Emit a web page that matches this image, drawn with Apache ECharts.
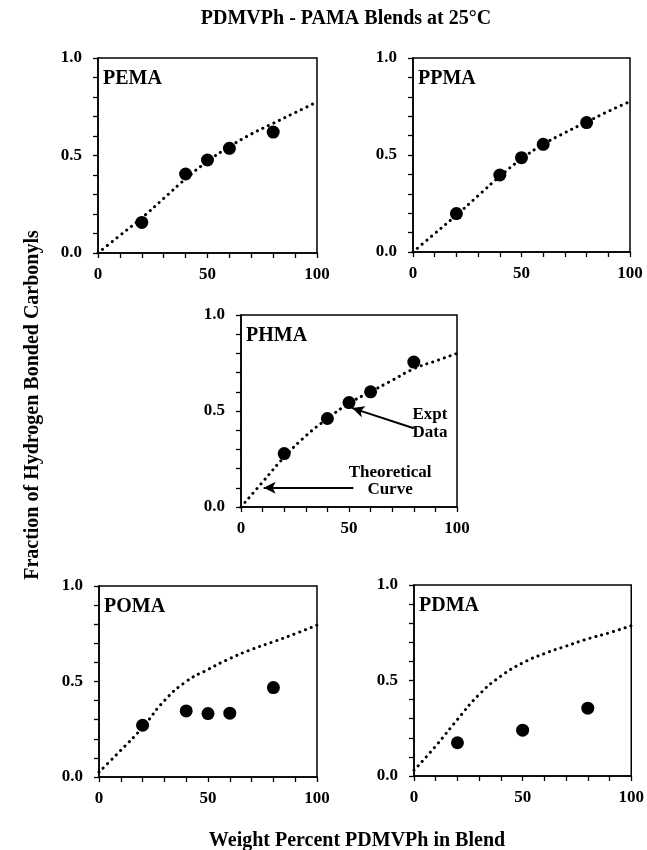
<!DOCTYPE html>
<html><head><meta charset="utf-8">
<script src="https://cdn.jsdelivr.net/npm/echarts@6/dist/echarts.min.js"></script>
<style>html,body{margin:0;padding:0;background:#fff}#c{width:647px;height:850px}</style>
</head><body><div id="c"></div>
<script>
const panelNames = ['PEMA','PPMA','PHMA','POMA','PDMA'];
const exptX = {
  PEMA: [20,40,50,60,80],
  PPMA: [20,40,50,60,80],
  PHMA: [20,40,50,60,80],
  POMA: [20,40,50,60,80],
  PDMA: [20,50,80]
};
const exptY = {
  PEMA: [0.157,0.405,0.477,0.537,0.62],
  PPMA: [0.198,0.397,0.486,0.555,0.667],
  PHMA: [0.278,0.461,0.544,0.60,0.755],
  POMA: [0.271,0.346,0.332,0.334,0.468],
  PDMA: [0.174,0.24,0.355]
};
const curveX = [0,10,20,30,40,50,60,70,80,90,100];
const curveY = {
  PEMA: [0.0,0.09,0.18,0.28,0.38,0.47,0.545,0.61,0.665,0.72,0.775],
  PPMA: [0.0,0.095,0.19,0.29,0.39,0.48,0.555,0.615,0.67,0.725,0.776],
  PHMA: [0.0,0.13,0.26,0.37,0.46,0.54,0.60,0.66,0.72,0.76,0.80],
  POMA: [0.026,0.14,0.26,0.40,0.50,0.563,0.62,0.668,0.708,0.75,0.795],
  PDMA: [0.03,0.157,0.296,0.427,0.523,0.592,0.641,0.68,0.718,0.75,0.787]
};
const yTickLabels = ['0.0','0.5','1.0'];
const xTickLabels = ['0','50','100'];
const titleText = 'PDMVPh - PAMA Blends at 25°C';
const yAxisTitle = 'Fraction of Hydrogen Bonded Carbonyls';
const xAxisTitle = 'Weight Percent PDMVPh in Blend';
const annoTexts = [['Expt',87.5,0.479],['Data',87.5,0.39],['Theoretical',69,0.177],['Curve',69,0.089]];
const annoArrows = [[[80,0.41],[51.5,0.515]],[[52,0.1],[10.5,0.1]]];

const grids = [
  {left:98, top:58, width:219, height:195},
  {left:413, top:58, width:217, height:194},
  {left:241, top:315, width:216, height:192},
  {left:99, top:586, width:218, height:191},
  {left:414, top:585, width:218, height:191}
];
const FONT = '"Liberation Serif", "DejaVu Serif", serif';

const option = {
  animation:false,
  backgroundColor:'#fff',
  grid: grids.map(g=>Object.assign({show:true,borderColor:'#000',borderWidth:1.5,backgroundColor:'transparent'},g)),
  xAxis: grids.map((g,i)=>({
    type:'value',gridIndex:i,min:0,max:100,interval:10,
    axisLine:{show:true,onZero:false,lineStyle:{color:'#000',width:1.5}},
    axisTick:{show:true,inside:false,length:5,lineStyle:{color:'#000',width:1.3}},
    splitLine:{show:false},
    axisLabel:{margin:13,fontFamily:FONT,fontWeight:'bold',fontSize:17,color:'#000',
      formatter:v=>{const s=String(Math.round(v));return xTickLabels.includes(s)?s:'';}}
  })),
  yAxis: grids.map((g,i)=>({
    type:'value',gridIndex:i,min:0,max:1,interval:0.1,
    axisLine:{show:true,onZero:false,lineStyle:{color:'#000',width:1.5}},
    axisTick:{show:true,inside:false,length:5,lineStyle:{color:'#000',width:1.3}},
    splitLine:{show:false},
    axisLabel:{margin:16,fontFamily:FONT,fontWeight:'bold',fontSize:17,color:'#000',
      formatter:v=>{const s=(Math.round(v*10)/10).toFixed(1);return yTickLabels.includes(s)?s:'';}}
  })),
  graphic:[
    {type:'text',x:346,y:19,style:{text:titleText,font:'bold 20px '+FONT,fill:'#000',textAlign:'center',textVerticalAlign:'middle'}},
    {type:'text',x:357,y:841,style:{text:xAxisTitle,font:'bold 20px '+FONT,fill:'#000',textAlign:'center',textVerticalAlign:'middle'}},
    {type:'text',x:33,y:405,rotation:Math.PI/2,style:{text:yAxisTitle,font:'bold 20px '+FONT,fill:'#000',textAlign:'center',textVerticalAlign:'middle'}}
  ].concat(panelNames.map((n,i)=>({type:'text',x:grids[i].left+5,y:grids[i].top+11,style:{text:n,font:'bold 20px '+FONT,fill:'#000'}}))),
  series: []
};
panelNames.forEach((n,i)=>{
  option.series.push({
    type:'line',xAxisIndex:i,yAxisIndex:i,smooth:true,showSymbol:false,symbol:'none',
    data:curveX.map((x,k)=>[x,curveY[n][k]]),
    lineStyle:{color:'#000',width:3,type:[0.1,6],cap:'round'},z:2
  });
  const s = {
    type:'scatter',xAxisIndex:i,yAxisIndex:i,symbol:'circle',symbolSize:13,
    itemStyle:{color:'#000',opacity:1},z:3,
    data:exptX[n].map((x,k)=>[x,exptY[n][k]])
  };
  if(n==='PHMA'){
    s.markLine={silent:true,symbol:['none','arrow'],symbolSize:[9,12],
      lineStyle:{color:'#000',width:2,type:'solid',opacity:1},label:{show:false},
      data:annoArrows.map(a=>[{coord:a[0]},{coord:a[1]}])};
    s.markPoint={silent:true,symbol:'circle',symbolSize:0,
      label:{show:true,position:'inside',fontFamily:FONT,fontWeight:'bold',fontSize:17,color:'#000',formatter:p=>p.name},
      data:annoTexts.map(t=>({name:t[0],coord:[t[1],t[2]]}))};
  }
  option.series.push(s);
});
echarts.init(document.getElementById('c'),null,{renderer:'canvas'}).setOption(option);
</script></body></html>
